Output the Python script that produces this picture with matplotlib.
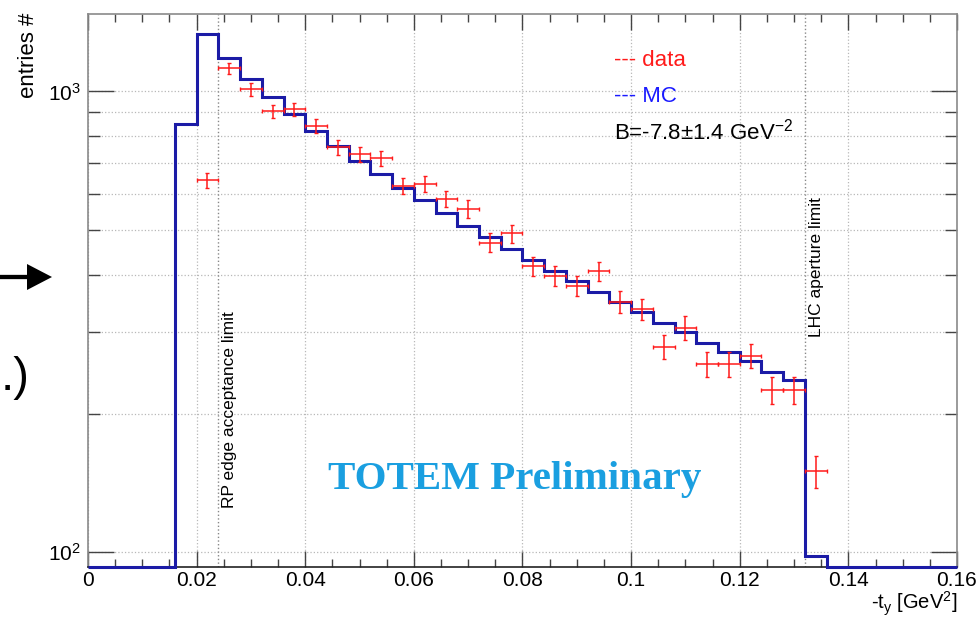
import numpy as np
import matplotlib

matplotlib.use("Agg")
import matplotlib.pyplot as plt
from matplotlib.patches import FancyArrow
from matplotlib.ticker import FixedLocator, MultipleLocator, NullFormatter, FixedFormatter, LogLocator
from matplotlib.transforms import blended_transform_factory, IdentityTransform

plt.rcParams["font.family"] = ["Liberation Sans", "DejaVu Sans"]
plt.rcParams["mathtext.fontset"] = "custom"
plt.rcParams["mathtext.rm"] = "Liberation Sans"
plt.rcParams["mathtext.it"] = "Liberation Sans:italic"

# MC histogram, 0.004 GeV^2 bins over 0..0.16
mc_edges = np.linspace(0.0, 0.16, 41)
mc_counts = [0, 0, 0, 0, 849, 1331, 1181, 1065, 970, 891, 820, 763, 707, 662,
             618, 580, 545, 511, 482, 456, 431, 408, 387, 367, 349, 332, 314,
             300, 285, 272, 260, 246, 236, 98, 0, 0, 0, 0, 0, 0]

# measured points (bin centres, counts, stat. errors)
data_t = [0.022, 0.026, 0.030, 0.034, 0.038, 0.042, 0.046, 0.050, 0.054, 0.058,
          0.062, 0.066, 0.070, 0.074, 0.078, 0.082, 0.086, 0.090, 0.094, 0.098,
          0.102, 0.106, 0.110, 0.114, 0.118, 0.122, 0.126, 0.130, 0.134]
data_counts = [641, 1122, 1011, 906, 915, 841, 757, 730, 716, 624, 630, 584, 556,
               470, 492, 417, 398, 379, 407, 350, 337, 279, 307, 256, 256, 267,
               225, 225, 150]
data_err = [25, 33, 32, 30, 30, 29, 28, 27, 27, 25, 25, 24, 24, 22, 22, 20, 20,
            19, 20, 19, 18, 17, 18, 16, 16, 16, 15, 15, 12]
bin_halfwidth = 0.002

rp_edge_limit = 0.024
lhc_aperture_limit = 0.132

W, H = 979, 617
fig = plt.figure(figsize=(W / 100, H / 100), dpi=100)
x0, x1, y_top, y_bot = 88, 957, 14, 567
ax = fig.add_axes([x0 / W, 1 - y_bot / H, (x1 - x0) / W, (y_bot - y_top) / H])

ylo, yhi = 92.9, 1472
ax.set_yscale("log")
ax.set_xlim(0, 0.16)
ax.set_ylim(ylo, yhi)

xt = np.arange(0, 0.1601, 0.02)
ax.xaxis.set_major_locator(FixedLocator(xt))
ax.xaxis.set_minor_locator(MultipleLocator(0.005))
ax.xaxis.set_major_formatter(FixedFormatter(["0", "0.02", "0.04", "0.06", "0.08", "0.1", "0.12", "0.14", "0.16"]))
ax.yaxis.set_major_locator(FixedLocator([100, 1000]))
ax.yaxis.set_major_formatter(FixedFormatter([r"$\mathregular{10^{2}}$", r"$\mathregular{10^{3}}$"]))
ax.yaxis.set_minor_locator(LogLocator(base=10, subs=np.arange(2, 10)))
ax.yaxis.set_minor_formatter(NullFormatter())

ax.tick_params(axis="both", which="both", direction="in", top=True, right=True,
               labelsize=15, color="#444444", width=1.0)
ax.tick_params(axis="x", which="major", length=11.5, pad=3)
ax.tick_params(axis="x", which="minor", length=5.8)
ax.tick_params(axis="y", which="major", length=18.7, pad=5)
ax.tick_params(axis="y", which="minor", length=8.6)

ax.grid(True, axis="x", which="major", ls=":", color="#b8b8b8", lw=0.9)
ax.grid(True, axis="y", which="both", ls=":", color="#b8b8b8", lw=0.9)
ax.set_axisbelow(True)

for side in ("left", "top", "right"):
    ax.spines[side].set_color("#8a8a8a")
ax.spines["bottom"].set_color("#222222")
for s in ax.spines.values():
    s.set_linewidth(1.2)

# acceptance limits
trans = blended_transform_factory(ax.transData, ax.transAxes)
ax.axvline(rp_edge_limit, ls=":", color="#888888", lw=1.0)
ax.axvline(lhc_aperture_limit, ls=":", color="#888888", lw=1.0)
ax.text(rp_edge_limit + 0.002, 0.107, "RP edge acceptance limit", rotation=90,
        ha="center", va="bottom", fontsize=12.5, transform=trans)
ax.text(lhc_aperture_limit + 0.0022, 0.416, "LHC aperture limit", rotation=90,
        ha="center", va="bottom", fontsize=12.5, transform=trans)

# MC histogram (empty bins drawn on the lower edge)
ax.stairs(np.maximum(mc_counts, ylo), mc_edges, baseline=None, color="#1b1ba6",
          lw=2.2, clip_on=False, zorder=3)

# data points
ax.errorbar(data_t, data_counts, yerr=data_err, xerr=bin_halfwidth, fmt="none",
            ecolor="#ff1a1a", elinewidth=1.1, capsize=1.5, capthick=1.0, zorder=4)

fig.text(614 / W, 1 - 60 / H, "--- data", color="#ff1a1a", fontsize=16, va="center")
fig.text(614 / W, 1 - 96 / H, "--- MC", color="#1a1aff", fontsize=16, va="center")
fig.text(614 / W, 1 - 132 / H, r"B=-7.8$\pm$1.4 GeV$^{-2}$", color="black",
         fontsize=16, va="center")

fig.text(515 / W, 1 - 479 / H, "TOTEM Preliminary", color="#1a9fe0", fontsize=29.5,
         fontweight="bold", family="Liberation Serif", ha="center", va="center")

fig.text(28 / W, 1 - 13 / H, "entries #", rotation=90, fontsize=16,
         ha="center", va="top")
fig.text(957 / W, 1 - 609 / H, r"-t$_\mathrm{y}$ [GeV$^2$]", fontsize=14.5,
         ha="right", va="baseline")

# pieces of the surrounding slide
fig.add_artist(FancyArrow(0, H - 277, 52, 0, width=4.3, head_width=26, head_length=25,
                          length_includes_head=True, color="black", lw=0,
                          transform=IdentityTransform()))
fig.text(30 / W, 1 - 378 / H, ".)", fontsize=34, ha="right", va="center")

fig.savefig("out.png", dpi=100)
plt.close(fig)
